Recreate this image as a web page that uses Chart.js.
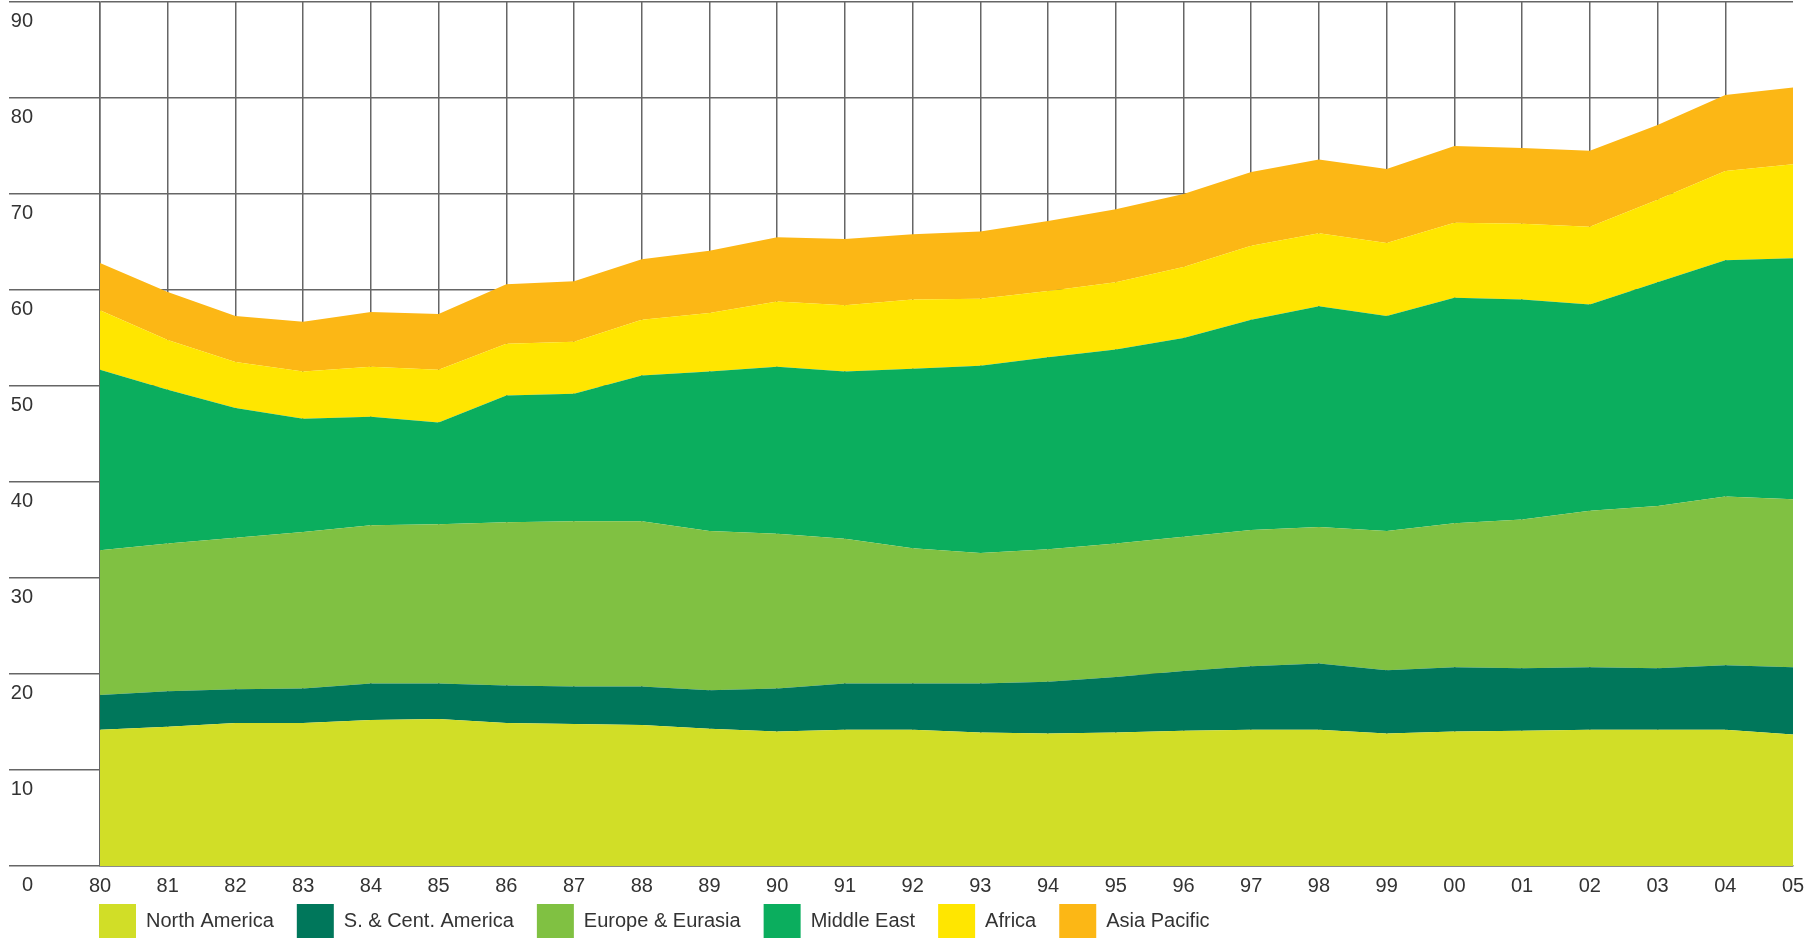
<!DOCTYPE html>
<html>
<head>
<meta charset="utf-8">
<script src="https://cdn.jsdelivr.net/npm/chart.js@4"></script>
<style>
  html, body { margin: 0; padding: 0; background: #ffffff; }
  #wrap { width: 1820px; height: 938px; position: relative; }
</style>
</head>
<body>
<div id="wrap"><canvas id="c" width="1820" height="938"></canvas></div>
<script>
const years = ['80','81','82','83','84','85','86','87','88','89','90','91','92','93','94','95','96','97','98','99','00','01','02','03','04','05'];
const yTickLabels = ['0','10','20','30','40','50','60','70','80','90'];

const northAmerica   = [14.2,14.5,14.9,14.9,15.2,15.3,14.9,14.8,14.7,14.3,14.0,14.2,14.2,13.9,13.8,13.9,14.1,14.2,14.2,13.8,14.0,14.1,14.2,14.2,14.2,13.7];
const sCentAmerica   = [3.6,3.7,3.5,3.6,3.8,3.7,3.9,3.9,4.0,4.0,4.5,4.8,4.8,5.1,5.4,5.8,6.2,6.6,6.9,6.6,6.7,6.5,6.5,6.4,6.7,7.0];
const europeEurasia  = [15.1,15.4,15.8,16.3,16.5,16.6,17.0,17.2,17.2,16.6,16.1,15.1,14.1,13.6,13.8,13.9,14.0,14.2,14.2,14.5,15.0,15.5,16.3,16.9,17.6,17.5];
const middleEast     = [18.8,16.0,13.5,11.8,11.3,10.6,13.2,13.3,15.2,16.6,17.4,17.4,18.7,19.5,20.0,20.2,20.7,21.9,23.0,22.4,23.5,22.9,21.5,23.3,24.6,25.1];
const africa         = [6.2,5.2,4.8,4.9,5.2,5.5,5.4,5.4,5.8,6.1,6.8,6.9,7.2,7.0,6.9,7.0,7.4,7.7,7.6,7.6,7.8,7.9,8.1,8.6,9.3,9.8];
const asiaPacific    = [4.9,5.0,4.8,5.2,5.7,5.8,6.2,6.3,6.3,6.5,6.7,6.9,6.8,7.0,7.3,7.6,7.6,7.7,7.7,7.7,8.0,7.9,7.9,7.8,7.9,8.0];

const seriesNames  = ['North America','S. & Cent. America','Europe & Eurasia','Middle East','Africa','Asia Pacific'];
const seriesData   = [northAmerica, sCentAmerica, europeEurasia, middleEast, africa, asiaPacific];
const seriesColors = ['#d1de27','#00775b','#80c142','#0bae5e','#ffe600','#fcb715'];

const gridColor = '#666666';
const textColor = '#333333';
const legendPad = 23;
const legendBoxH = 34;
const xAxisH = 32;
const areaBottom = 866;
const canvasH = 938;
const padBottom = canvasH - areaBottom - xAxisH - (legendBoxH + legendPad + 10);

Chart.defaults.font.family = "'Liberation Sans', Arial, sans-serif";
Chart.defaults.font.size = 20;
Chart.defaults.color = textColor;

const datasets = seriesData.map((d, i) => ({
  label: seriesNames[i],
  data: d,
  backgroundColor: seriesColors[i],
  borderColor: seriesColors[i],
  borderWidth: 0,
  pointRadius: 0,
  pointHoverRadius: 0,
  tension: 0,
  fill: i === 0 ? 'origin' : '-1'
}));

const legendPlacer = {
  id: 'legendPlacer',
  afterLayout(chart) {
    if (chart.legend) {
      chart.legend.left = 99 - legendPad;
      chart.legend.top = 904 - legendPad;
    }
  }
};

new Chart(document.getElementById('c'), {
  type: 'line',
  data: { labels: years, datasets },
  plugins: [legendPlacer],
  options: {
    responsive: false,
    animation: false,
    events: [],
    layout: { padding: { left: 9, right: 27, top: 2, bottom: padBottom } },
    plugins: {
      tooltip: { enabled: false },
      legend: {
        position: 'bottom',
        align: 'start',
        labels: {
          boxWidth: 37,
          boxHeight: legendBoxH,
          padding: legendPad,
          color: textColor,
          font: { size: 20 }
        }
      }
    },
    scales: {
      x: {
        stacked: true,
        offset: false,
        afterFit: (s) => { s.height = xAxisH; },
        grid: {
          color: (ctx) => ctx.index === years.length - 1 ? 'rgba(0,0,0,0)' : gridColor,
          lineWidth: 1.5,
          drawTicks: false,
          tickLength: 0
        },
        border: { display: true, color: gridColor, width: 1.5 },
        ticks: { padding: 8, color: textColor, maxRotation: 0, autoSkip: false, font: { size: 20 } }
      },
      y: {
        stacked: true,
        min: 0,
        max: 90,
        afterFit: (s) => { s.width = 91; },
        afterBuildTicks: (s) => { s.ticks = yTickLabels.map(t => ({ value: Number(t) })); },
        grid: {
          color: gridColor,
          lineWidth: 1.5,
          drawTicks: true,
          tickLength: 91
        },
        border: { display: true, color: gridColor, width: 1.5 },
        ticks: {
          stepSize: 10,
          padding: -24,
          labelOffset: 19,
          crossAlign: 'near',
          color: textColor,
          font: { size: 20 },
          callback: (v) => yTickLabels[yTickLabels.indexOf(String(v))]
        }
      }
    }
  }
});
</script>
</body>
</html>
